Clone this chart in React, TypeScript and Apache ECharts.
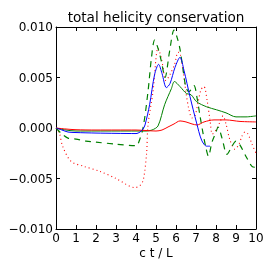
import React, { useEffect, useRef } from "react";
import * as echarts from "echarts";

const blueX = [0, 0.3, 0.6, 1, 2, 3, 4, 4.2, 4.35, 4.45, 4.68, 4.93, 5.13, 5.3, 5.52, 5.7, 5.95, 6.2, 6.4, 6.7, 7.03, 7.28, 7.53, 7.7];
const blueY = [0, -0.0002, -0.0004, -0.00045, -0.0005, -0.00053, -0.00055, -0.0004, -0.0001, 0.0003, 0.0023, 0.0053, 0.0063, 0.0054, 0.004, 0.0044, 0.006, 0.007, 0.0057, 0.0031, 0.0005, -0.0012, -0.0018, -0.0018];

const greenX = [0, 0.5, 1, 2, 3, 4, 4.5, 4.8, 5.1, 5.43, 5.77, 5.92, 6.2, 6.53, 6.75, 7.03, 7.53, 8.03, 8.5, 9.0, 9.5, 10];
const greenY = [0, -0.0002, -0.0003, -0.0003, -0.0003, -0.0003, -0.0003, -0.0002, 0.0002, 0.0023, 0.0039, 0.0046, 0.0041, 0.0034, 0.0033, 0.0026, 0.0021, 0.0018, 0.0015, 0.0011, 0.0011, 0.0012];

const redX = [0, 0.5, 1, 2, 3, 4, 4.5, 5.0, 5.3, 5.6, 5.9, 6.2, 6.5, 6.8, 7.05, 7.4, 7.9, 8.5, 9.2, 10];
const redY = [0, -0.0001, -0.00017, -0.0002, -0.0002, -0.0002, -0.00025, -0.0003, -0.0002, 0.0001, 0.0004, 0.0007, 0.0006, 0.0004, 0.0003, 0.0006, 0.0008, 0.0008, 0.00065, 0.0006];

const dashX = [0, 0.3, 0.6, 1, 1.5, 2, 3, 4, 4.1, 4.35, 4.6, 4.77, 4.93, 5.1, 5.27, 5.45, 5.68, 5.9, 6.05, 6.2, 6.35, 6.5, 6.65, 6.9, 7.05, 7.2, 7.35, 7.5, 7.62, 7.8, 8.0, 8.1, 8.3, 8.55, 8.8, 9.0, 9.2, 9.55, 9.8, 10];
const dashY = [0, -0.0006, -0.001, -0.0011, -0.0013, -0.0014, -0.0016, -0.00175, -0.0016, 0.0, 0.0036, 0.0069, 0.0087, 0.0079, 0.0066, 0.005, 0.0076, 0.0097, 0.009, 0.0078, 0.0058, 0.004, 0.0036, 0.0042, 0.003, 0.0012, -0.0005, -0.002, -0.0028, -0.0014, -0.0004, 0.0001, -0.001, -0.0026, -0.0018, -0.0013, -0.0017, -0.003, -0.0038, -0.0039];

const dotX = [0, 0.17, 0.33, 0.75, 1.4, 2.2, 3.0, 3.95, 4.2, 4.37, 4.53, 4.6, 4.85, 5.1, 5.27, 5.5, 5.7, 5.93, 6.1, 6.2, 6.35, 6.5, 6.65, 6.8, 6.95, 7.1, 7.25, 7.4, 7.55, 7.7, 7.82, 8.0, 8.2, 8.35, 8.5, 8.7, 8.95, 9.15, 9.3, 9.45, 9.6, 9.8, 10];
const dotY = [0, -0.0005, -0.0018, -0.0033, -0.0038, -0.0043, -0.005, -0.0059, -0.0057, -0.0051, -0.0025, 0.0003, 0.0036, 0.0079, 0.0069, 0.0047, 0.0053, 0.0063, 0.0075, 0.0074, 0.0058, 0.0035, 0.0018, 0.001, 0.0012, 0.0025, 0.0038, 0.0041, 0.0028, 0.0008, -0.0006, -0.0002, 0.0006, 0.0012, 0.0004, -0.0012, -0.0021, -0.0016, -0.0008, -0.0004, -0.0006, -0.0016, -0.0025];

const xTicks = [0, 1, 2, 3, 4, 5, 6, 7, 8, 9, 10];
const yTicks = [-0.01, -0.005, 0, 0.005, 0.01];

const titleText = "total helicity conservation";
const xLabel = "c t / L";

const pair = (xs: number[], ys: number[]) => xs.map((x, i) => [x, ys[i]]);

const fmtY = (v: number) => {
  if (Math.abs(v) < 1e-9) return "0.000";
  const s = v.toFixed(3);
  return s.replace("-", "\u2212");
};

export default function App() {
  const ref = useRef<HTMLDivElement>(null);
  useEffect(() => {
    if (!ref.current) return;
    const chart = echarts.init(ref.current, undefined, { renderer: "svg" });
    const font = "DejaVu Sans";
    const axisCommon = {
      axisLine: { show: true, onZero: false, lineStyle: { color: "#000", width: 1 } },
      axisTick: { show: true, inside: true, length: 4, lineStyle: { color: "#000", width: 1 } },
      splitLine: { show: false },
    };
    chart.setOption({
      animation: false,
      grid: { left: 56, right: 18, top: 27, bottom: 45, containLabel: false },
      graphic: [
        {
          type: "text",
          x: 156,
          y: 17,
          style: { text: titleText, fontSize: 13.6, fontFamily: font, fill: "#000", align: "center", verticalAlign: "middle" },
        },
        {
          type: "text",
          x: 156,
          y: 253,
          style: { text: xLabel, fontSize: 12, fontFamily: font, fill: "#000", align: "center", verticalAlign: "middle" },
        },
      ],
      xAxis: [
        {
          type: "value",
          position: "bottom",
          min: xTicks[0],
          max: xTicks[xTicks.length - 1],
          interval: 1,
          ...axisCommon,
          axisLabel: { show: true, margin: 3, fontSize: 12, fontFamily: font, color: "#000", formatter: (v: number) => String(Math.round(v)) },
        },
        {
          type: "value",
          position: "top",
          min: xTicks[0],
          max: xTicks[xTicks.length - 1],
          interval: 1,
          ...axisCommon,
          axisLabel: { show: false },
        },
      ],
      yAxis: [
        {
          type: "value",
          position: "left",
          min: yTicks[0],
          max: yTicks[yTicks.length - 1],
          interval: 0.005,
          ...axisCommon,
          axisLabel: { show: true, margin: 3, fontSize: 12, fontFamily: font, color: "#000", formatter: fmtY },
        },
        {
          type: "value",
          position: "right",
          min: yTicks[0],
          max: yTicks[yTicks.length - 1],
          interval: 0.005,
          ...axisCommon,
          axisLabel: { show: false },
        },
      ],
      series: [
        {
          type: "line",
          data: pair(dotX, dotY),
          showSymbol: false,
          smooth: 0.3,
          lineStyle: { color: "#ff0000", width: 1.1, type: [1, 3] },
          clip: true,
        },
        {
          type: "line",
          data: pair(dashX, dashY),
          showSymbol: false,
          smooth: 0.3,
          lineStyle: { color: "#008000", width: 1.2, type: [6, 5] },
          clip: true,
        },
        {
          type: "line",
          data: pair(greenX, greenY),
          showSymbol: false,
          smooth: 0.3,
          lineStyle: { color: "#008000", width: 1 },
        },
        {
          type: "line",
          data: pair(redX, redY),
          showSymbol: false,
          smooth: 0.3,
          lineStyle: { color: "#ff0000", width: 1 },
        },
        {
          type: "line",
          data: pair(blueX, blueY),
          showSymbol: false,
          smooth: 0.3,
          lineStyle: { color: "#0000ff", width: 1 },
        },
      ],
    });
    return () => chart.dispose();
  }, []);
  return <div ref={ref} style={{ position: "fixed", left: 0, top: 0, width: 274, height: 274 }} />;
}
